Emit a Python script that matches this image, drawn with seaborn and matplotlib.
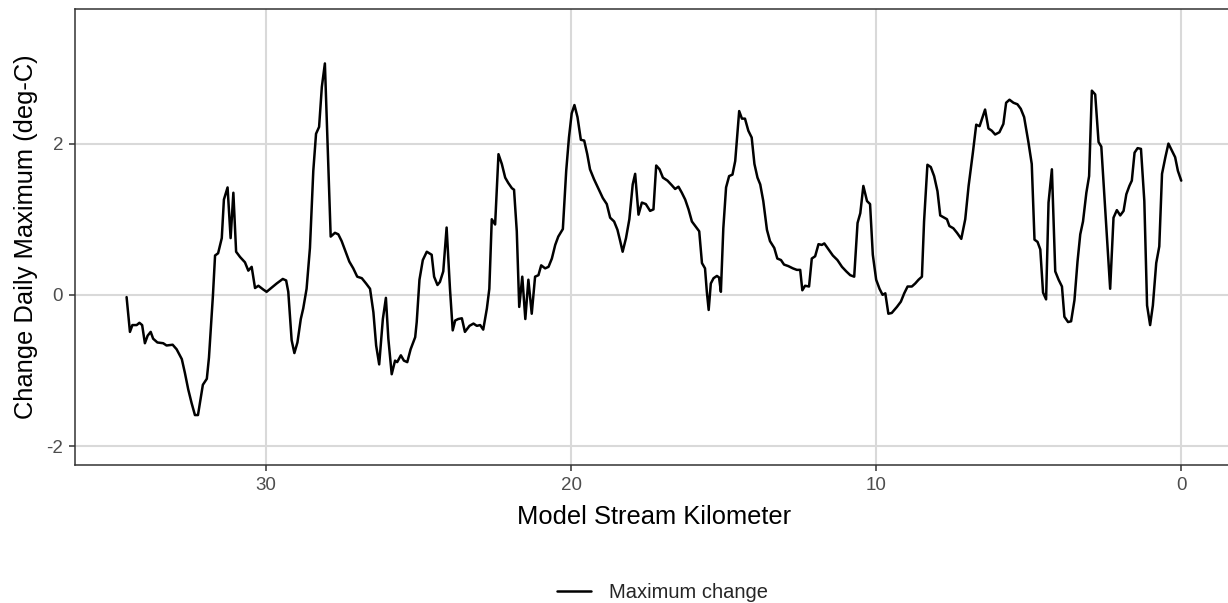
import matplotlib
matplotlib.use("Agg")
import matplotlib.pyplot as plt
from matplotlib.lines import Line2D
import numpy as np
import pandas as pd
import seaborn as sns

# Model stream kilometer (upstream -> downstream) and change in daily maximum (deg-C)
stream_km = [
    34.57, 34.46, 34.38, 34.24, 34.15, 34.06, 33.97, 33.88, 33.78, 33.70,
    33.56, 33.37, 33.26, 33.06, 32.93, 32.76, 32.66, 32.55, 32.44, 32.33,
    32.23, 32.07, 31.94, 31.87, 31.74, 31.67, 31.57, 31.45, 31.38, 31.26,
    31.16, 31.07, 30.98, 30.85, 30.69, 30.58, 30.47, 30.36, 30.25, 30.09,
    29.98, 29.65, 29.45, 29.34, 29.27, 29.16, 29.07, 28.97, 28.86, 28.78,
    28.67, 28.56, 28.45, 28.36, 28.26, 28.17, 28.07, 27.88, 27.74, 27.63,
    27.52, 27.39, 27.27, 27.14, 27.01, 26.86, 26.72, 26.59, 26.48, 26.39,
    26.29, 26.17, 26.07, 25.99, 25.88, 25.77, 25.70, 25.58, 25.48, 25.37,
    25.26, 25.11, 25.06, 24.97, 24.86, 24.73, 24.57, 24.49, 24.38, 24.30,
    24.19, 24.08, 23.97, 23.88, 23.80, 23.70, 23.58, 23.48, 23.33, 23.20,
    23.09, 22.98, 22.88, 22.76, 22.68, 22.60, 22.49, 22.38, 22.27, 22.16,
    22.06, 21.94, 21.87, 21.78, 21.70, 21.60, 21.50, 21.40, 21.29, 21.18,
    21.07, 20.98, 20.85, 20.74, 20.63, 20.52, 20.42, 20.27, 20.16, 20.07,
    19.98, 19.89, 19.79, 19.68, 19.57, 19.47, 19.38, 19.25, 19.10, 18.96,
    18.83, 18.72, 18.59, 18.48, 18.39, 18.31, 18.20, 18.09, 17.98, 17.90,
    17.79, 17.68, 17.55, 17.41, 17.30, 17.21, 17.10, 16.99, 16.84, 16.70,
    16.59, 16.48, 16.37, 16.26, 16.15, 16.04, 15.93, 15.80, 15.71, 15.61,
    15.55, 15.49, 15.42, 15.33, 15.22, 15.15, 15.09, 15.01, 14.92, 14.82,
    14.71, 14.62, 14.49, 14.40, 14.30, 14.19, 14.08, 13.99, 13.89, 13.80,
    13.70, 13.58, 13.48, 13.34, 13.24, 13.12, 13.02, 12.88, 12.73, 12.60,
    12.49, 12.42, 12.33, 12.20, 12.11, 12.00, 11.89, 11.78, 11.70, 11.56,
    11.42, 11.27, 11.12, 10.98, 10.85, 10.72, 10.61, 10.52, 10.42, 10.30,
    10.20, 10.11, 10.00, 9.89, 9.79, 9.70, 9.60, 9.49, 9.32, 9.19,
    9.08, 8.97, 8.83, 8.72, 8.61, 8.50, 8.43, 8.32, 8.21, 8.10,
    7.99, 7.90, 7.77, 7.68, 7.60, 7.47, 7.35, 7.21, 7.08, 6.97,
    6.83, 6.72, 6.61, 6.51, 6.43, 6.32, 6.21, 6.10, 5.96, 5.83,
    5.74, 5.63, 5.50, 5.37, 5.26, 5.15, 5.01, 4.90, 4.81, 4.71,
    4.62, 4.53, 4.43, 4.35, 4.24, 4.13, 4.02, 3.91, 3.83, 3.71,
    3.61, 3.50, 3.40, 3.31, 3.22, 3.11, 3.02, 2.93, 2.82, 2.71,
    2.62, 2.49, 2.33, 2.22, 2.11, 2.00, 1.89, 1.80, 1.70, 1.62,
    1.53, 1.43, 1.32, 1.21, 1.12, 1.02, 0.93, 0.82, 0.72, 0.63,
    0.52, 0.42, 0.30, 0.20, 0.11, 0.00,
]
max_change = [
    -0.03, -0.49, -0.40, -0.40, -0.37, -0.40, -0.64, -0.54, -0.49, -0.58,
    -0.63, -0.64, -0.67, -0.66, -0.72, -0.85, -1.03, -1.25, -1.43, -1.59,
    -1.59, -1.19, -1.11, -0.83, -0.01, 0.52, 0.55, 0.75, 1.26, 1.42,
    0.75, 1.35, 0.57, 0.50, 0.43, 0.32, 0.37, 0.09, 0.12, 0.07,
    0.04, 0.15, 0.21, 0.19, 0.04, -0.60, -0.77, -0.63, -0.32, -0.18,
    0.08, 0.62, 1.64, 2.13, 2.22, 2.75, 3.06, 0.77, 0.82, 0.80,
    0.71, 0.57, 0.44, 0.35, 0.24, 0.22, 0.15, 0.08, -0.23, -0.67,
    -0.92, -0.32, -0.04, -0.58, -1.05, -0.87, -0.89, -0.80, -0.87, -0.89,
    -0.72, -0.56, -0.36, 0.20, 0.46, 0.57, 0.53, 0.24, 0.13, 0.17,
    0.31, 0.89, 0.08, -0.47, -0.34, -0.32, -0.31, -0.49, -0.41, -0.38,
    -0.41, -0.40, -0.46, -0.18, 0.08, 1.00, 0.93, 1.86, 1.73, 1.55,
    1.48, 1.41, 1.39, 0.84, -0.16, 0.24, -0.32, 0.20, -0.25, 0.24,
    0.26, 0.39, 0.35, 0.37, 0.48, 0.66, 0.77, 0.87, 1.64, 2.08,
    2.40, 2.51, 2.35, 2.05, 2.04, 1.86, 1.66, 1.53, 1.40, 1.28,
    1.20, 1.02, 0.97, 0.86, 0.71, 0.57, 0.75, 1.00, 1.46, 1.60,
    1.06, 1.22, 1.20, 1.11, 1.13, 1.71, 1.66, 1.55, 1.51, 1.45,
    1.40, 1.43, 1.35, 1.26, 1.13, 0.97, 0.91, 0.84, 0.42, 0.35,
    0.04, -0.20, 0.15, 0.22, 0.25, 0.23, 0.04, 0.88, 1.42, 1.57,
    1.59, 1.77, 2.43, 2.33, 2.33, 2.17, 2.08, 1.73, 1.55, 1.46,
    1.24, 0.86, 0.71, 0.62, 0.48, 0.46, 0.40, 0.38, 0.35, 0.33,
    0.33, 0.06, 0.12, 0.11, 0.48, 0.51, 0.67, 0.66, 0.68, 0.60,
    0.52, 0.46, 0.37, 0.31, 0.26, 0.24, 0.95, 1.08, 1.44, 1.24,
    1.20, 0.53, 0.20, 0.08, 0.00, 0.02, -0.25, -0.24, -0.16, -0.09,
    0.02, 0.11, 0.11, 0.15, 0.20, 0.24, 0.97, 1.72, 1.69, 1.57,
    1.37, 1.05, 1.02, 1.00, 0.91, 0.88, 0.82, 0.74, 1.00, 1.44,
    1.88, 2.25, 2.23, 2.35, 2.45, 2.20, 2.17, 2.12, 2.15, 2.26,
    2.54, 2.58, 2.54, 2.52, 2.46, 2.35, 2.02, 1.73, 0.73, 0.70,
    0.60, 0.03, -0.06, 1.22, 1.66, 0.31, 0.20, 0.11, -0.29, -0.36,
    -0.35, -0.07, 0.44, 0.80, 0.97, 1.35, 1.57, 2.70, 2.65, 2.02,
    1.96, 1.11, 0.08, 1.02, 1.12, 1.05, 1.11, 1.33, 1.44, 1.51,
    1.88, 1.94, 1.93, 1.24, -0.14, -0.40, -0.14, 0.42, 0.64, 1.60,
    1.82, 2.00, 1.90, 1.82, 1.64, 1.51,
]
x_ticks = [30, 20, 10, 0]
y_ticks = [-2, 0, 2]

df = pd.DataFrame({"km": stream_km, "change": max_change})

sns.set_theme(style="whitegrid")
plt.rcParams["font.family"] = ["Liberation Sans", "DejaVu Sans"]

fig = plt.figure(figsize=(12.28, 6.03), dpi=100)
# panel runs slightly past the right edge, as in the original
ax = fig.add_axes([0.0611, 0.2289, 0.9438, 0.7562])

sns.lineplot(data=df, x="km", y="change", ax=ax, color="black",
             linewidth=1.8, estimator=None, sort=False, legend=False)

ax.set_xlim(36.26, -1.73)
ax.set_ylim(-2.25, 3.78)
ax.set_xticks(x_ticks)
ax.set_yticks(y_ticks)
ax.set_xticklabels([str(t) for t in x_ticks])
ax.set_yticklabels([str(t) for t in y_ticks])

ax.grid(True, color="#d9d9d9", linewidth=1.5)
ax.set_axisbelow(True)
for side in ["left", "bottom", "top", "right"]:
    ax.spines[side].set_color("#333333")
    ax.spines[side].set_linewidth(1.1)

ax.tick_params(axis="both", which="major", length=4.5, width=1.1, color="#333333",
               labelsize=13.5, labelcolor="#4d4d4d", pad=4, direction="out")
ax.tick_params(axis="x", bottom=True)
ax.tick_params(axis="y", left=True)

ax.set_xlabel("Model Stream Kilometer", fontsize=18.4, color="black", labelpad=8)
ax.set_ylabel("Change Daily Maximum (deg-C)", fontsize=18.4, color="black", labelpad=6)

handle = Line2D([0], [0], color="black", linewidth=1.8)
fig.legend([handle], ["Maximum change"], loc="center",
           bbox_to_anchor=(0.5395, 0.0166), frameon=False, fontsize=14.5,
           handlelength=1.65, handletextpad=0.9)

fig.savefig("out.png", dpi=100)
